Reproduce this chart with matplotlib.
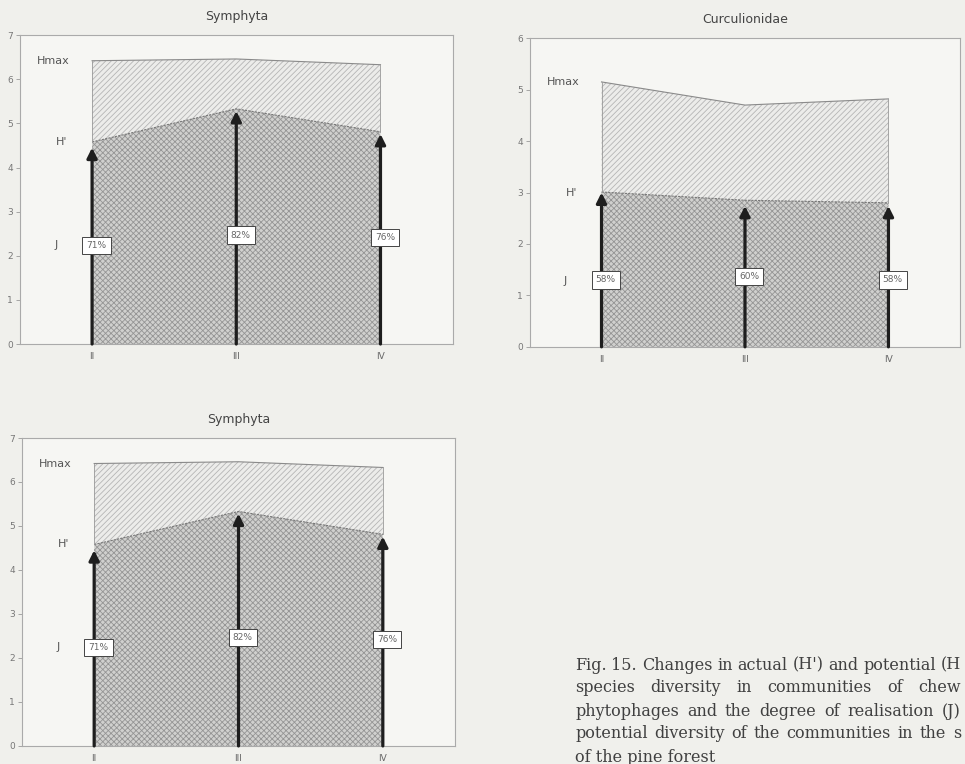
import matplotlib.pyplot as plt
import numpy as np

plt.rcParams['hatch.linewidth'] = 0.6

# data
stands = ['II', 'III', 'IV']
symph_hmax = [6.42, 6.46, 6.33]
symph_h = [4.58, 5.33, 4.81]
symph_tip = [4.45, 5.28, 4.76]
symph_j = ['71%', '82%', '76%']
symph_jy = [2.24, 2.47, 2.42]

curc_hmax = [5.15, 4.70, 4.82]
curc_h = [3.01, 2.85, 2.80]
curc_tip = [3.0, 2.74, 2.74]
curc_j = ['58%', '60%', '58%']
curc_jy = [1.30, 1.36, 1.30]

# caption as far as the scan shows it
caption = ["Fig. 15. Changes in actual (H') and potential (H",
           "species diversity in communities of chew",
           "phytophages and the degree of realisation (J)",
           "potential diversity of the communities in the s",
           "of the pine forest"]

bg = '#f0f0ec'
ink = '#555555'

fig = plt.figure(figsize=(9.65, 7.64), dpi=100, facecolor=bg)


def panel(rect, title, hmax, h, tip, jlab, jy, ymax, lab_y):
    ax = fig.add_axes(rect)
    ax.set_facecolor('#f6f6f3')
    x = np.arange(len(stands))
    ax.fill_between(x, h, hmax, facecolor='#ececea', edgecolor='#b5b5b5',
                    hatch='//////', linewidth=0)
    ax.fill_between(x, 0, h, facecolor='#d0d0ce', edgecolor='#959595',
                    hatch='xxxxxx', linewidth=0)
    ax.plot(x, hmax, color='#8a8a8a', lw=0.8)
    ax.plot(x, h, color='#777777', lw=0.8, ls=(0, (2, 1)))
    ax.plot([0, 0], [h[0], hmax[0]], color='#999999', lw=0.6)
    ax.plot([2, 2], [h[2], hmax[2]], color='#999999', lw=0.6)
    for i in range(len(stands)):
        ax.annotate('', xy=(x[i], tip[i]), xytext=(x[i], 0),
                    arrowprops=dict(arrowstyle='-|>', lw=2.3, color='#1e1e1e',
                                    mutation_scale=15, shrinkA=0, shrinkB=0))
        ax.text(x[i] + 0.03, jy[i], jlab[i], ha='center', va='center',
                fontsize=6.5, color='#666666',
                bbox=dict(boxstyle='square,pad=0.45', fc='white',
                          ec='#444444', lw=0.7))
    ax.text(-0.38, lab_y[0], 'Hmax', ha='left', va='center', fontsize=8, color=ink)
    ax.text(-0.21, lab_y[1], "H'", ha='center', va='center', fontsize=8, color=ink)
    ax.text(-0.25, lab_y[2], 'J', ha='center', va='center', fontsize=8, color=ink)
    ax.set_xlim(-0.5, 2.5)
    ax.set_ylim(0, ymax)
    ax.set_xticks(x)
    ax.set_xticklabels(stands)
    ax.set_yticks(range(ymax + 1))
    ax.tick_params(axis='y', length=3, width=0.6, color='#999999',
                   labelsize=6.5, labelcolor='#777777', pad=2)
    ax.tick_params(axis='x', length=0, labelsize=6.5, labelcolor='#666666', pad=6)
    for s in ax.spines.values():
        s.set_color('#aaaaaa')
        s.set_linewidth(0.8)
    ax.set_title(title, fontsize=9, color='#444444', pad=11)
    return ax


panel([0.0207, 0.5497, 0.4483, 0.4043], 'Symphyta', symph_hmax, symph_h,
      symph_tip, symph_j, symph_jy, 7, [6.42, 4.58, 2.24])
panel([0.549, 0.546, 0.446, 0.404], 'Curculionidae', curc_hmax, curc_h,
      curc_tip, curc_j, curc_jy, 6, [5.15, 3.0, 1.28])
panel([0.0228, 0.0236, 0.4487, 0.4031], 'Symphyta', symph_hmax, symph_h,
      symph_tip, symph_j, symph_jy, 7, [6.42, 4.58, 2.24])

# justified caption, word by word
renderer = fig.canvas.get_renderer()
x0, x1 = 575.0, 961.0
tkw = dict(fontsize=11.5, family='DejaVu Serif', color='#404040', va='center')
for k, line in enumerate(caption):
    y = 1 - (665 + 23 * k) / 764
    words = line.split()
    if k == len(caption) - 1:
        fig.text(x0 / 965, y, line, ha='left', **tkw)
        continue
    objs = [fig.text(0, y, w, ha='left', **tkw) for w in words]
    widths = [t.get_window_extent(renderer).width for t in objs]
    gap = (x1 - x0 - sum(widths)) / (len(words) - 1)
    pos = x0
    for t, w in zip(objs, widths):
        t.set_x(pos / 965)
        pos += w + gap

fig.savefig('out.png', dpi=100, facecolor=bg)
